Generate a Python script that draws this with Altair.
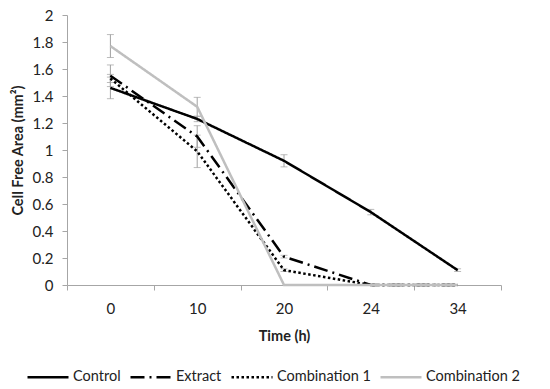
import altair as alt
import pandas as pd

times = ["0", "10", "20", "24", "34"]
series_names = ["Control", "Extract", "Combination 1", "Combination 2"]
control = [1.46, 1.23, 0.92, 0.54, 0.11]
extract = [1.55, 1.10, 0.21, 0.0, 0.0]
comb1 = [1.53, 0.99, 0.11, 0.0, 0.0]
comb2 = [1.77, 1.32, 0.0, 0.0, 0.0]
control_err = [0.08, 0.02, 0.045, 0.02, 0.01]
extract_err = [0.08, 0.08, 0.01, 0.0, 0.0]
comb1_err = [0.03, 0.12, 0.01, 0.0, 0.0]
comb2_err = [0.085, 0.07, 0.0, 0.0, 0.0]
y_ticks = [0, 0.2, 0.4, 0.6, 0.8, 1, 1.2, 1.4, 1.6, 1.8, 2]

rows = []
for name, vals, errs in zip(series_names, [control, extract, comb1, comb2],
                            [control_err, extract_err, comb1_err, comb2_err]):
    for t, v, e in zip(times, vals, errs):
        rows.append({"series": name, "time": t, "value": v, "lo": v - e, "hi": v + e, "err": e})
df = pd.DataFrame(rows)
df_err = df[df["err"] > 0]

FONT = "Lato"
AX = "#a6a6a6"

x = alt.X("time:N", sort=times, title="Time (h)",
          scale=alt.Scale(paddingInner=0, paddingOuter=0),
          axis=alt.Axis(tickBand="extent", labelAngle=0, domainColor=AX, tickColor=AX,
                        tickSize=5, labelPadding=11, titlePadding=13, labelFontSize=15,
                        titleFontSize=14.5, titleFontWeight="bold", labelColor="#222",
                        titleColor="#222", labelFont=FONT, titleFont=FONT))
y_scale = alt.Scale(domain=[0, 2], nice=False)
y_axis = alt.Axis(values=y_ticks, format="~g",
                  grid=False, domainColor=AX, tickColor=AX, tickSize=5, labelPadding=9,
                  labelOverlap=False, labelBound=False, labelFlush=False,
                  titlePadding=7, labelFontSize=15, titleFontSize=14.5,
                  titleFontWeight="bold", labelColor="#222", titleColor="#222",
                  labelFont=FONT, titleFont=FONT)
y_title = "Cell Free Area (mm²)"

err_rule = alt.Chart(df_err).mark_rule(color="#a0a0a0", strokeWidth=1).encode(
    x=x, y=alt.Y("lo:Q", scale=y_scale, axis=y_axis, title=y_title), y2="hi:Q")
cap_lo = alt.Chart(df_err).mark_tick(color="#a0a0a0", size=7, thickness=1).encode(
    x=x, y=alt.Y("lo:Q", scale=y_scale, axis=y_axis, title=y_title))
cap_hi = alt.Chart(df_err).mark_tick(color="#a0a0a0", size=7, thickness=1).encode(
    x=x, y=alt.Y("hi:Q", scale=y_scale, axis=y_axis, title=y_title))

color = alt.Color("series:N", sort=series_names, title=None,
                  scale=alt.Scale(domain=series_names,
                                  range=["#000000", "#000000", "#000000", "#bfbfbf"]))
dash = alt.StrokeDash("series:N", sort=series_names, title=None,
                      scale=alt.Scale(domain=series_names,
                                      range=[[1, 0], [14, 5, 2, 5], [2.5, 2.5], [1, 0]]))

line_base = alt.Chart(df).mark_line(strokeWidth=2.5, strokeCap="butt").encode(
    x=x,
    y=alt.Y("value:Q", scale=y_scale, axis=y_axis, title=y_title),
    color=color,
    strokeDash=dash,
)
lines_black = line_base.transform_filter("datum.series != 'Combination 2'")
lines_gray = line_base.transform_filter("datum.series == 'Combination 2'")

chart = alt.layer(err_rule, cap_lo, cap_hi, lines_black, lines_gray).properties(
    width=434, height=270,
    autosize=alt.AutoSizeParams(type="none"),
    padding={"left": 59, "top": 7, "right": 41, "bottom": 96},
).configure_view(stroke=None).configure_axisY(
    labelOverlap=False
).configure_legend(
    orient="none", legendX=-41, legendY=340, direction="horizontal", columns=4,
    symbolType="stroke", symbolSize=1681, symbolStrokeWidth=2.5, labelFont=FONT,
    labelFontSize=14.5, labelColor="#222", labelOffset=3, columnPadding=4,
)

chart.save("out.html", embed_options={"renderer": "svg", "actions": False})
